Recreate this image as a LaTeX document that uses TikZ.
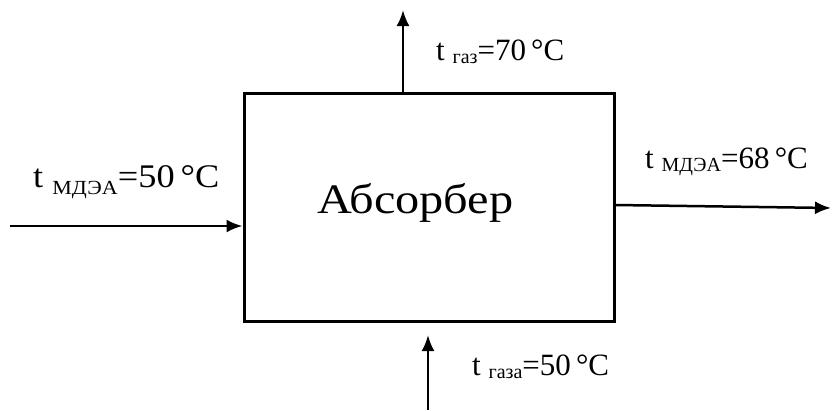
\documentclass[tikz,border=0pt]{standalone}
\usepackage{fontspec}
\setmainfont{Liberation Serif}
\usetikzlibrary{arrows.meta}
\newcommand{\lbl}[4]{t {\fontsize{20}{20}\selectfont\raisebox{-#4pt}{#1}}=#2\,°C}
\tikzset{
  flow/.style={line width=2.5pt,-{Latex[length=16pt,width=13pt]}},
  lab/.style={anchor=base west,inner sep=0pt,font=\fontsize{31}{31}\selectfont},
  unit/.style={draw,line width=3pt,minimum width=370pt,minimum height=228pt,inner sep=0pt}
}
\begin{document}
\begin{tikzpicture}[x=1pt,y=-1pt]
\useasboundingbox (0,0) rectangle (832,410);
\node[unit] (box) at (429,207.5) {};
\node[anchor=base west,inner sep=0pt,font=\fontsize{42}{42}\selectfont] (name) at (317,213) {\scalebox{1.15}[1]{Абсорбер}};
\coordinate (lin) at (10,226);
\coordinate (tt) at (403,10);
\coordinate (rs) at (614,205);
\coordinate (re) at (831,208);
\coordinate (bb) at (428,410);
\coordinate (bt) at (428,335);
\draw[flow] (lin) -- (lin -| box.west);
\draw[flow] (tt |- box.north) -- (tt);
\draw[flow] (rs -| box.east) -- (re);
\draw[flow] (bb) -- (bt);
\node[lab,font=\fontsize{33}{33}\selectfont] (l1) at (33,187) {\scalebox{1.1}[1]{\lbl{МДЭА}{50}{}{7}}};
\node[lab] (l2) at (436,60) {\lbl{газ}{70}{}{3}};
\node[lab] (l3) at (645,168) {\lbl{МДЭА}{68}{}{3}};
\node[lab] (l4) at (472,375) {\lbl{газа}{50}{}{3}};
\end{tikzpicture}
\end{document}
